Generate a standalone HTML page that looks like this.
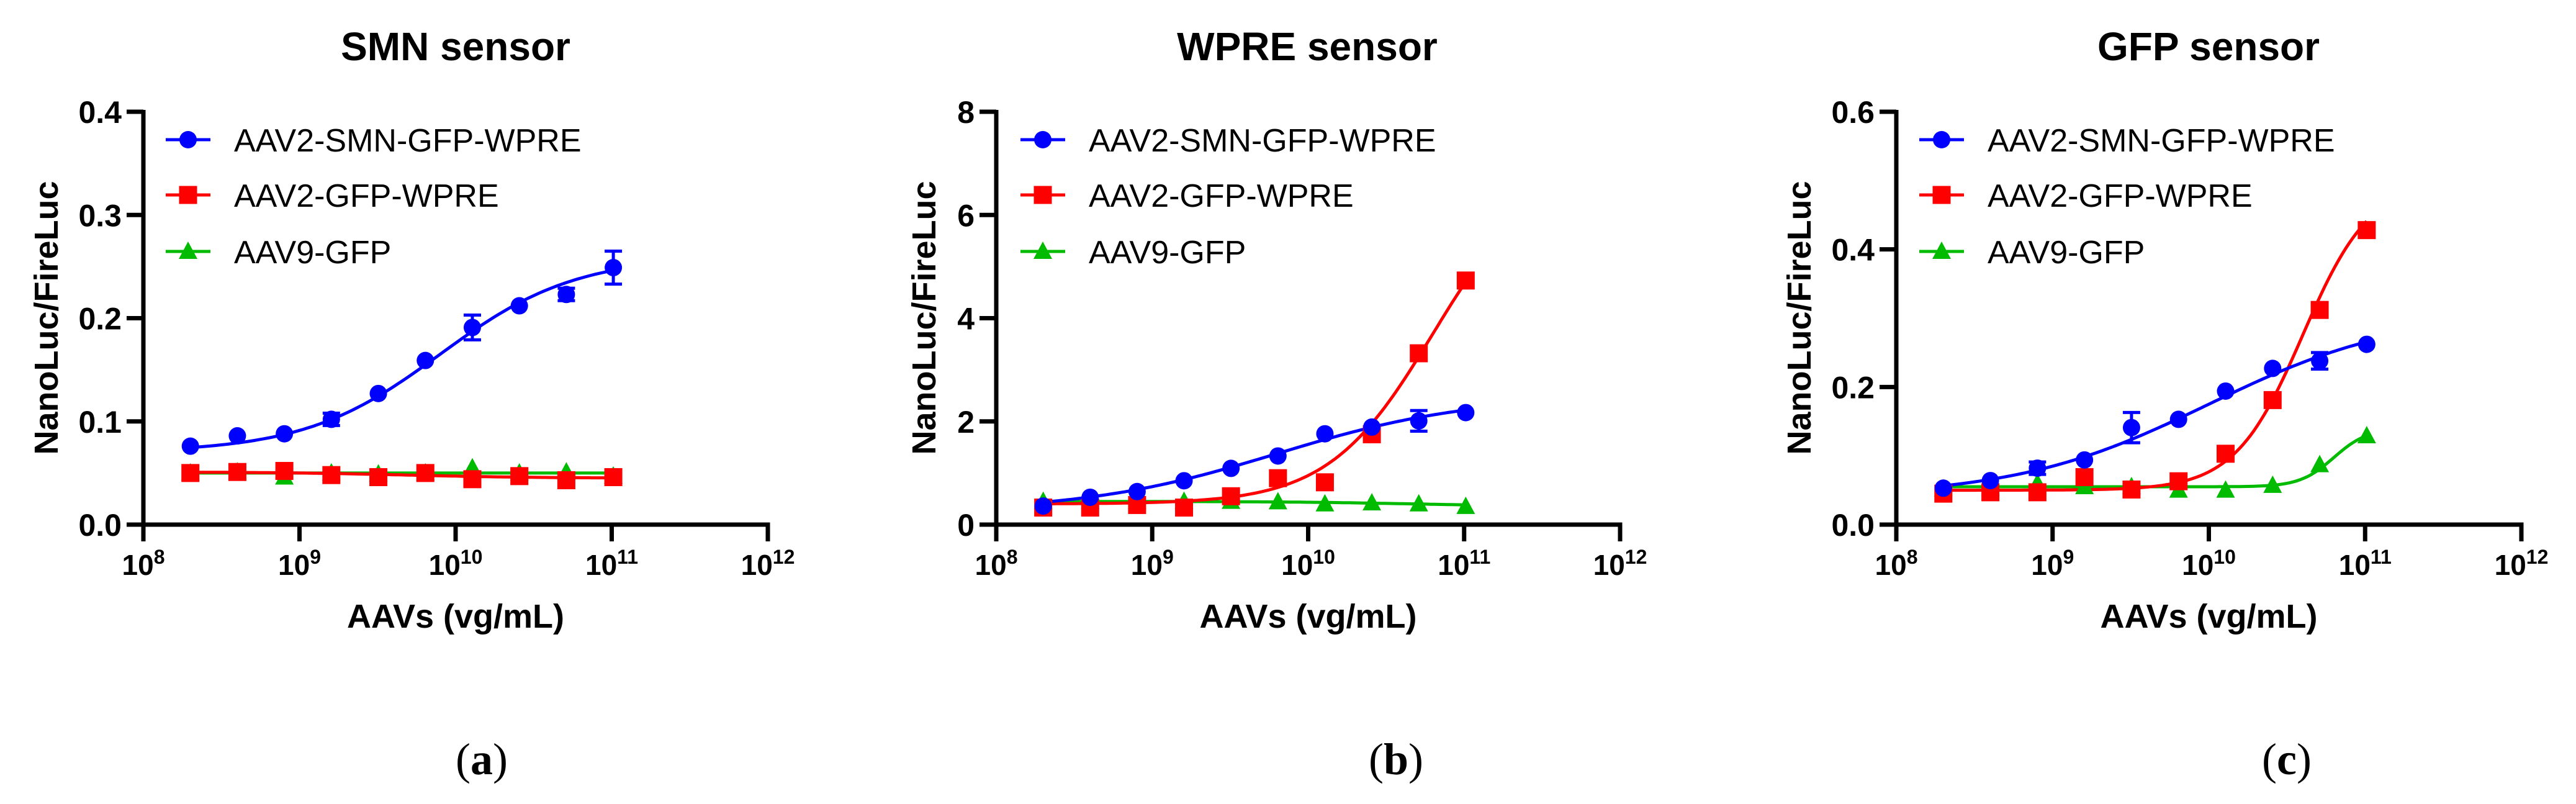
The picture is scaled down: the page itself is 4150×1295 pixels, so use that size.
<!DOCTYPE html>
<html><head><meta charset="utf-8"><style>
html,body{margin:0;padding:0;background:#fff;}
svg{display:block;}
text{font-family:"Liberation Sans",Arial,sans-serif;}
text.serif{font-family:"Liberation Serif","Times New Roman",serif;}
</style></head><body>
<svg id="fig" xmlns="http://www.w3.org/2000/svg" width="4150" height="1295" viewBox="0 0 4150 1295"></svg>
<script>
// shared x concentrations (vg/mL)
const concentrations = [2e8, 4e8, 8e8, 1.6e9, 3.2e9, 6.4e9, 1.28e10, 2.56e10, 5.12e10, 1.024e11];
const seriesNames = ["AAV2-SMN-GFP-WPRE", "AAV2-GFP-WPRE", "AAV9-GFP"];
const xTickExponents = [8, 9, 10, 11, 12];

// Panel a: SMN sensor
const smnBlue = [0.076, 0.086, 0.088, 0.102, 0.127, 0.159, 0.191, 0.212, 0.223, 0.249];
const smnBlueErr = [0, 0, 0, 0.006, 0, 0, 0.012, 0, 0.006, 0.016];
const smnRed = [0.050, 0.051, 0.052, 0.048, 0.046, 0.050, 0.044, 0.047, 0.043, 0.046];
const smnGreen = [0.050, 0.051, 0.046, 0.050, 0.049, 0.050, 0.055, 0.050, 0.051, 0.047];
const smnYTicks = ["0.0", "0.1", "0.2", "0.3", "0.4"];
// 4PL fit params: bottom, top, logEC50, hill
const smnBlueFit = [0.07, 0.26, 9.9, 1.0];
const smnRedFit = [0.051, 0.045, 9.7, 1];
const smnGreenFit = [0.05, 0.05, 10, 1];

// Panel b: WPRE sensor
const wpreBlue = [0.36, 0.53, 0.64, 0.85, 1.09, 1.33, 1.76, 1.89, 2.01, 2.17];
const wpreBlueErr = [0, 0, 0, 0, 0, 0, 0, 0, 0.2, 0];
const wpreRed = [0.33, 0.33, 0.38, 0.33, 0.55, 0.90, 0.82, 1.75, 3.32, 4.73];
const wpreRedErr = [0, 0, 0, 0, 0, 0, 0, 0, 0, 0.1];
const wpreGreen = [0.45, 0.45, 0.45, 0.45, 0.45, 0.44, 0.40, 0.42, 0.40, 0.35];
const wpreYTicks = ["0", "2", "4", "6", "8"];
const wpreBlueFit = [0.25, 2.5, 9.8, 0.7];
const wpreRedFit = [0.4, 7.0, 10.8, 1.3];
const wpreGreenFit = [0.45, 0.35, 10.7, 1];

// Panel c: GFP sensor
const gfpBlue = [0.053, 0.064, 0.082, 0.094, 0.141, 0.153, 0.194, 0.227, 0.238, 0.262];
const gfpBlueErr = [0, 0, 0.009, 0, 0.022, 0, 0, 0, 0.012, 0];
const gfpRed = [0.045, 0.047, 0.047, 0.069, 0.051, 0.063, 0.103, 0.181, 0.312, 0.428];
const gfpRedErr = [0, 0, 0, 0.01, 0, 0, 0, 0.01, 0.008, 0];
const gfpGreen = [0.052, 0.053, 0.060, 0.055, 0.055, 0.050, 0.050, 0.057, 0.087, 0.129];
const gfpYTicks = ["0.0", "0.2", "0.4", "0.6"];
const gfpBlueFit = [0.04, 0.31, 10.0, 0.7];
const gfpRedFit = [0.05, 0.5, 10.6, 2];
const gfpGreenFit = [0.055, 0.14, 10.8, 4];

const NS = "http://www.w3.org/2000/svg";
const svg = document.getElementById("fig");
const COLORS = ["#0000ff", "#ff0000", "#00bb00"];
function mk(tag, attrs, parent) {
  const e = document.createElementNS(NS, tag);
  for (const k in attrs) e.setAttribute(k, attrs[k]);
  (parent || svg).appendChild(e);
  return e;
}
function marker(kind, cx, cy, color, g) {
  let m;
  if (kind === 0) m = mk("circle", {cx: cx, cy: cy, r: 14, fill: color}, g);
  else if (kind === 1) m = mk("rect", {x: cx - 14.5, y: cy - 14.5, width: 29, height: 29, fill: color}, g);
  else m = mk("polygon", {points: (cx - 15) + "," + (cy + 12) + " " + (cx + 15) + "," + (cy + 12) + " " + cx + "," + (cy - 16), fill: color}, g);
  return m;
}
function fourPL(p, lx) { return p[0] + (p[1] - p[0]) / (1 + Math.pow(10, (p[2] - lx) * p[3])); }

function panel(cfg) {
  const g = mk("g", {});
  
  
  const x0 = cfg.x0, x1 = cfg.x1, yT = 180, yB = 845;
  const ymax = parseFloat(cfg.yTicks[cfg.yTicks.length - 1]);
  const X = v => x0 + (Math.log10(v) - 8) / 4 * (x1 - x0);
  const Y = v => yB - v / ymax * (yB - yT);

  const title = mk("text", {x: cfg.tc, y: 97, "font-size": 64, "font-weight": "bold", "text-anchor": "middle"}, g);
  title.textContent = cfg.title;
  
  

  cfg.yTicks.forEach(t => {
    const v = parseFloat(t);
    const tk = mk("line", {x1: x0 - 27, x2: x0, y1: Y(v), y2: Y(v), stroke: "#000", "stroke-width": 7}, g);
    
    
    const lb = mk("text", {x: x0 - 35, y: Y(v) + 18, "font-size": 50, "font-weight": "bold", "text-anchor": "end"}, g);
    lb.textContent = t;
    
    
  });
  xTickExponents.forEach(e => {
    const px = X(Math.pow(10, e));
    const tk = mk("line", {x1: px, x2: px, y1: yB, y2: yB + 27, stroke: "#000", "stroke-width": 7}, g);
    
    
    const lb = mk("text", {x: px, y: 926, "font-size": 46, "font-weight": "bold", "text-anchor": "middle"}, g);
    
    
    const a = mk("tspan", {}, lb); a.textContent = "10";
    const b = mk("tspan", {"font-size": 32, dy: -18}, lb); b.textContent = String(e);
  });
  const ya = mk("line", {x1: x0, x2: x0, y1: yT - 3, y2: yB + 3.5, stroke: "#000", "stroke-width": 7}, g);
  
  
  const xa = mk("line", {x1: x0 - 3.5, x2: x1 + 3.5, y1: yB, y2: yB, stroke: "#000", "stroke-width": 7}, g);
  
  

  const yl = mk("text", {x: 0, y: 0, "font-size": 54, "font-weight": "bold", "text-anchor": "middle", transform: "translate(" + (cfg.ylx + 19) + ",512) rotate(-90)"}, g);
  yl.textContent = "NanoLuc/FireLuc";
  
  
  const xl = mk("text", {x: (x0 + x1) / 2, y: 1011, "font-size": 54, "font-weight": "bold", "text-anchor": "middle"}, g);
  xl.textContent = "AAVs (vg/mL)";
  
  

  const order = [2, 1, 0];
  order.forEach(i => {
    const fit = cfg.fits[i];
    let d = "";
    const l0 = Math.log10(concentrations[0]), l1 = Math.log10(concentrations[concentrations.length - 1]);
    for (let k = 0; k <= 120; k++) {
      const lx = l0 + (l1 - l0) * k / 120;
      d += (k ? "L" : "M") + X(Math.pow(10, lx)).toFixed(1) + "," + Y(fourPL(fit, lx)).toFixed(1);
    }
    const c = mk("path", {d: d, fill: "none", stroke: COLORS[i], "stroke-width": 5}, g);
    
    
  });
  order.forEach(i => {
    const vals = cfg.data[i], errs = cfg.errs[i];
    vals.forEach((v, k) => {
      const px = X(concentrations[k]);
      const e = errs ? errs[k] : 0;
      if (e > 0) {
        const eb = mk("path", {d: "M" + px + "," + Y(v + e) + "V" + Y(v - e) + "M" + (px - 14) + "," + Y(v + e) + "H" + (px + 14) + "M" + (px - 14) + "," + Y(v - e) + "H" + (px + 14), stroke: COLORS[i], "stroke-width": 5, fill: "none"}, g);
        
        
      }
      const m = marker(i, px, Y(v), COLORS[i], g);
      
      
    });
  });

  const rows = [225, 314, 405];
  seriesNames.forEach((n, i) => {
    const lg = mk("g", {}, g);
    
    
    mk("line", {x1: cfg.lm - 36, x2: cfg.lm + 36, y1: rows[i], y2: rows[i], stroke: COLORS[i], "stroke-width": 5}, lg);
    marker(i, cfg.lm, rows[i], COLORS[i], lg);
    const t = mk("text", {x: cfg.lm + 74, y: rows[i] + 19, "font-size": 52}, lg);
    t.textContent = n;
  });

  const pl = mk("text", {x: cfg.pl, y: 1247, "font-size": 72, "text-anchor": "middle", "class": "serif"}, g);
  
  
  const p1 = mk("tspan", {}, pl); p1.textContent = "(";
  const p2 = mk("tspan", {"font-weight": "bold"}, pl); p2.textContent = cfg.letter;
  const p3 = mk("tspan", {}, pl); p3.textContent = ")";
}

panel({name: "smn-sensor-panel", title: "SMN sensor", x0: 231, x1: 1237, tc: 734, ylx: 74, lm: 303, pl: 776, letter: "a",
  yTicks: smnYTicks, data: [smnBlue, smnRed, smnGreen], errs: [smnBlueErr, null, null], fits: [smnBlueFit, smnRedFit, smnGreenFit]});
panel({name: "wpre-sensor-panel", title: "WPRE sensor", x0: 1605, x1: 2610, tc: 2106, ylx: 1488, lm: 1680, pl: 2249, letter: "b",
  yTicks: wpreYTicks, data: [wpreBlue, wpreRed, wpreGreen], errs: [wpreBlueErr, wpreRedErr, null], fits: [wpreBlueFit, wpreRedFit, wpreGreenFit]});
panel({name: "gfp-sensor-panel", title: "GFP sensor", x0: 3055, x1: 4062, tc: 3558, ylx: 2898, lm: 3128, pl: 3684, letter: "c",
  yTicks: gfpYTicks, data: [gfpBlue, gfpRed, gfpGreen], errs: [gfpBlueErr, gfpRedErr, null], fits: [gfpBlueFit, gfpRedFit, gfpGreenFit]});
</script>
</body></html>
